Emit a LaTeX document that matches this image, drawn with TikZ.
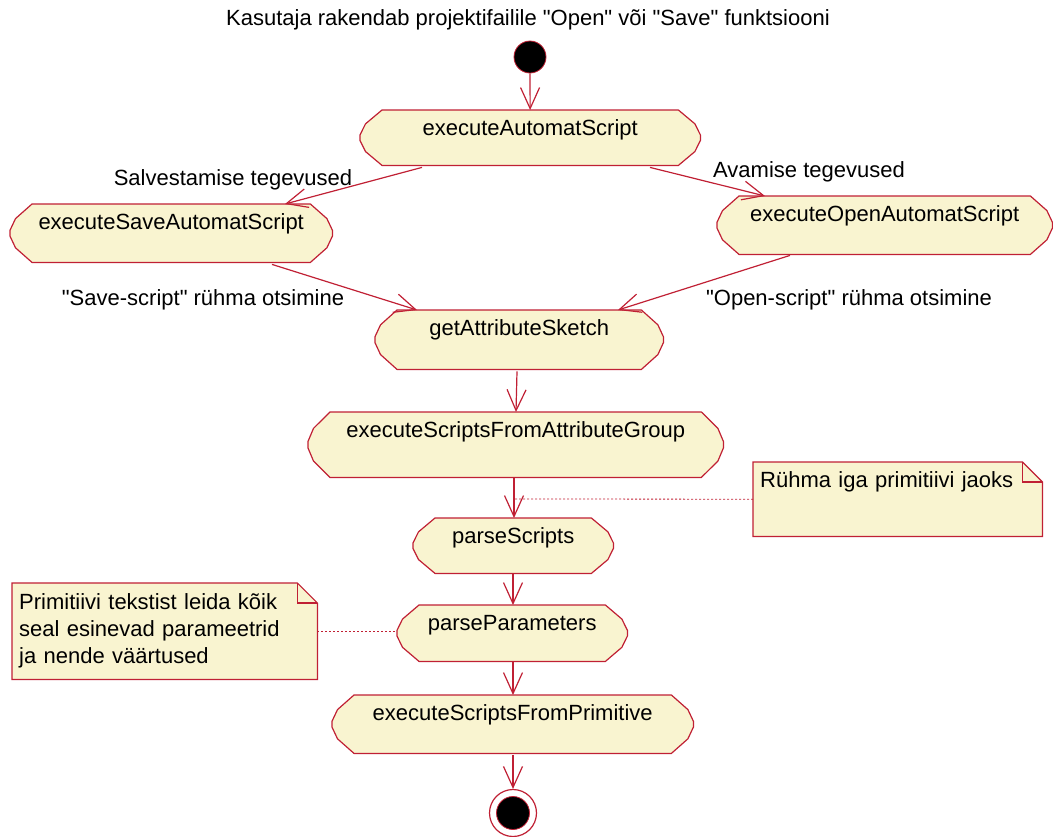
\documentclass[tikz,border=0pt]{standalone}
\usepackage{fontspec}
\setmainfont{Liberation Sans}[Ligatures=TeXOff]
\usetikzlibrary{arrows.meta,calc,backgrounds}
\definecolor{umlline}{RGB}{192,32,52}
\definecolor{umlfill}{RGB}{249,244,208}
\newcommand\dq{\symbol{34}}

% outline of an action state: straight top and bottom, bent ends
\newcommand\actoutline[1]{%
  \path[actshape] let \p1=(#1.north west), \p2=(#1.south east), \n1={\y1-\y2} in
    ({\x1+22pt},\y1) -- ({\x2-22pt},\y1) -- ({\x2-5.5pt},{\y1-0.25*\n1})
    -- (\x2,{\y1-0.45*\n1}) -- (\x2,{\y2+0.45*\n1}) -- ({\x2-5.5pt},{\y2+0.25*\n1})
    -- ({\x2-22pt},\y2) -- ({\x1+22pt},\y2) -- ({\x1+5.5pt},{\y2+0.25*\n1})
    -- (\x1,{\y2+0.45*\n1}) -- (\x1,{\y1-0.45*\n1}) -- ({\x1+5.5pt},{\y1-0.25*\n1}) -- cycle;}

% outline of a comment note with a folded corner
\newcommand\noteoutline[1]{%
  \path[actshape] (#1.north west) -- ([xshift=-20pt]#1.north east)
    -- ([yshift=-20pt]#1.north east) -- (#1.south east) -- (#1.south west) -- cycle;
  \draw[draw=umlline, line width=1.2pt] ([xshift=-20pt]#1.north east)
    -- ([xshift=-20pt,yshift=-20pt]#1.north east) -- ([yshift=-20pt]#1.north east);}

\begin{document}
\begin{tikzpicture}[x=1pt,y=-1pt,
  font=\fontsize{22}{27}\selectfont,
  act/.style={anchor=north west, inner sep=0pt, text height=25pt},
  actshape/.style={draw=umlline, fill=umlfill, line width=1.2pt},
  flow/.style={draw=umlline, line width=1.2pt, -{Straight Barb[length=21pt,width=19pt]}},
  notelink/.style={draw=umlline, line width=0.8pt, dash pattern=on 2pt off 2pt},
  notebox/.style={anchor=north west, inner ysep=0pt, inner xsep=7pt, align=left},
  lbl/.style={anchor=base, inner sep=0pt},
]
\useasboundingbox (0,0) rectangle (1053,836);

\node[lbl] (title) at (528,25) {Kasutaja rakendab projektifailile \dq Open\dq{} või \dq Save\dq{} funktsiooni};

% initial and final states
\node[circle, fill=black, draw=umlline, line width=0.8pt, minimum size=32pt, inner sep=0pt] (st) at (530,57) {};
\node[circle, fill=white, draw=umlline, line width=1.2pt, minimum size=47pt, inner sep=0pt] (en) at (513,813) {};
\node[circle, fill=black, draw=umlline, line width=0.8pt, minimum size=33pt, inner sep=0pt] (enin) at (en.center) {};

% action states
\node[act, minimum width=340pt, text depth=30pt] (ea) at (360,110) {executeAutomatScript};
\node[act, minimum width=322pt, text depth=33pt] (sv) at (10,204) {executeSaveAutomatScript};
\node[act, minimum width=335pt, text depth=33pt] (op) at (717,196) {executeOpenAutomatScript};
\node[act, minimum width=288pt, text depth=34pt] (gs) at (375,310) {getAttributeSketch};
\node[act, minimum width=415pt, text depth=40pt] (ag) at (308,412) {executeScriptsFromAttributeGroup};
\node[act, minimum width=200pt, text depth=30pt] (ps) at (413,518) {parseScripts};
\node[act, minimum width=230pt, text depth=31pt] (pp) at (397,605) {parseParameters};
\node[act, minimum width=361pt, text depth=33pt] (pr) at (332,695) {executeScriptsFromPrimitive};

% comment notes
\node[notebox, text width=275pt, text height=25pt, text depth=49pt] (n1) at (753,462) {Rühma iga primitiivi jaoks};
\node[notebox, text width=291pt, text height=26pt, text depth=70pt] (n2) at (12,583)
  {Primitiivi tekstist leida kõik\\seal esinevad parameetrid\\ja nende väärtused};

% transition labels
\node[lbl] (lsave) at (233,185) {Salvestamise tegevused};
\node[lbl] (lopen) at (809,177) {Avamise tegevused};
\node[lbl] (lsgrp) at (203,305) {\dq Save-script\dq{} rühma otsimine};
\node[lbl] (logrp) at (849,305) {\dq Open-script\dq{} rühma otsimine};

\begin{scope}[on background layer]
  \actoutline{ea}\actoutline{sv}\actoutline{op}\actoutline{gs}
  \actoutline{ag}\actoutline{ps}\actoutline{pp}\actoutline{pr}
  \noteoutline{n1}\noteoutline{n2}
\end{scope}

% transitions
\draw[flow] (st) -- (ea);
\draw[flow] ($(ea.south west)+(62,2)$) -- ($(sv.north west)+(275,0)$);
\draw[flow] ($(ea.south west)+(290,2)$) -- ($(op.north west)+(48,0)$);
\draw[flow] ($(sv.south west)+(262,2)$) -- ($(gs.north west)+(42,0)$);
\draw[flow] ($(op.south west)+(73,1)$) -- ($(gs.north west)+(243,0)$);
\draw[flow] ($(gs.south west)+(142,2)$) -- ($(ag.north west)+(208,0)$);
\draw[flow] ($(ag.south west)+(206,1)$) -- ($(ps.north west)+(101,0)$);
\draw[flow] ($(ps.south west)+(100,1)$) -- ($(pp.north west)+(116,0)$);
\draw[flow] ($(pp.south west)+(116,1)$) -- ($(pr.north west)+(181,0)$);
\draw[flow] ($(pr.south west)+(181,2)$) -- (en);

% note anchors
\coordinate (c1) at (514,499);
\draw[notelink] (n1.west) -- (c1);
\draw[notelink] (n2.east) -- (n2.east -| pp.west);
\end{tikzpicture}
\end{document}
